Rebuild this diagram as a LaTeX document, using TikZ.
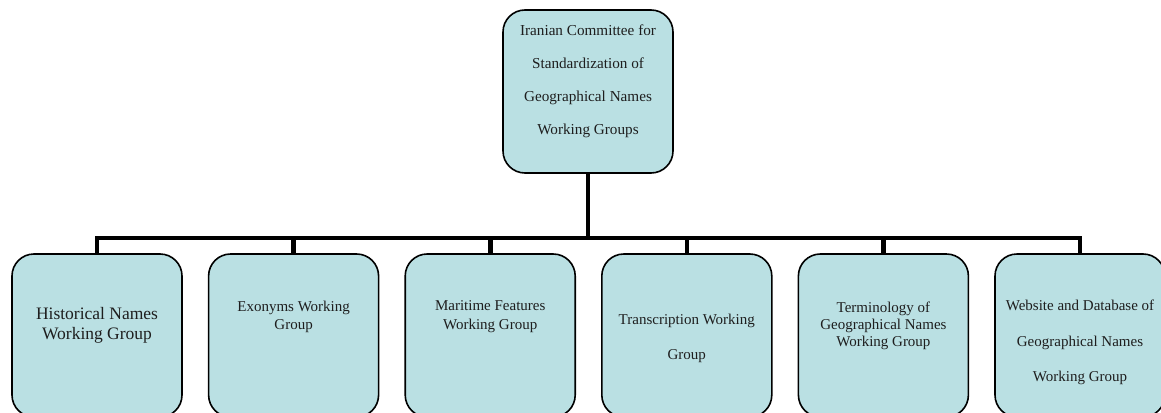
\documentclass[tikz,border=0pt]{standalone}
\usepackage{fontspec}
\setmainfont{Liberation Serif}
\definecolor{boxfill}{RGB}{186,224,227}
\definecolor{txtcol}{RGB}{30,30,30}
\tikzset{
  wgbox/.style={draw=black, line width=1.6pt, fill=boxfill, rounded corners=22pt,
    minimum width=170pt, minimum height=163pt, inner sep=0pt},
  conn/.style={draw=black, line width=4.6pt, line join=miter, line cap=butt},
  lbl/.style={align=center, text=txtcol, inner sep=0pt},
}
\newcommand{\fs}[2]{\fontsize{#1pt}{#2pt}\selectfont}
\begin{document}
\begin{tikzpicture}[x=1pt,y=-1pt]
\useasboundingbox (0,0) rectangle (1161,412);
\clip (0,0) rectangle (1161,412);
% boxes
\node[wgbox] (top) at (588,91.5) {};
\node[wgbox] (b1) at (97,335.5) {};
\node[wgbox] (b2) at (293.6,335.5) {};
\node[wgbox] (b3) at (490.2,335.5) {};
\node[wgbox] (b4) at (686.8,335.5) {};
\node[wgbox] (b5) at (883.4,335.5) {};
\node[wgbox] (b6) at (1080,335.5) {};
\coordinate (bus) at (588,238);
% connectors
\draw[conn] (top.south) -- (top.south |- bus);
\draw[conn] (b1.north) -- (b1.north |- bus) -- (b6.north |- bus) -- (b6.north);
\draw[conn] (b2.north) -- (b2.north |- bus);
\draw[conn] (b3.north) -- (b3.north |- bus);
\draw[conn] (b4.north) -- (b4.north |- bus);
\draw[conn] (b5.north) -- (b5.north |- bus);
% labels
\node[lbl, font=\fs{15.2}{33}] (ttop) at (588,81) {Iranian Committee for\\Standardization of\\Geographical Names\\Working Groups};
\node[lbl, font=\fs{17.5}{20}] (t1) at (97,325) {Historical Names\\Working Group};
\node[lbl, font=\fs{15}{18.5}] (t2) at (293.6,317) {Exonyms Working\\Group};
\node[lbl, font=\fs{15}{19}] (t3) at (490.2,316.5) {Maritime Features\\Working Group};
\node[lbl, font=\fs{15}{35}] (t4) at (686.8,338.5) {Transcription Working\\Group};
\node[lbl, font=\fs{15}{17}] (t5) at (883.4,326) {Terminology of\\Geographical Names\\Working Group};
\node[lbl, font=\fs{15}{35.5}] (t6) at (1080,342.5) {Website and Database of\\Geographical Names\\Working Group};
\end{tikzpicture}
\end{document}
